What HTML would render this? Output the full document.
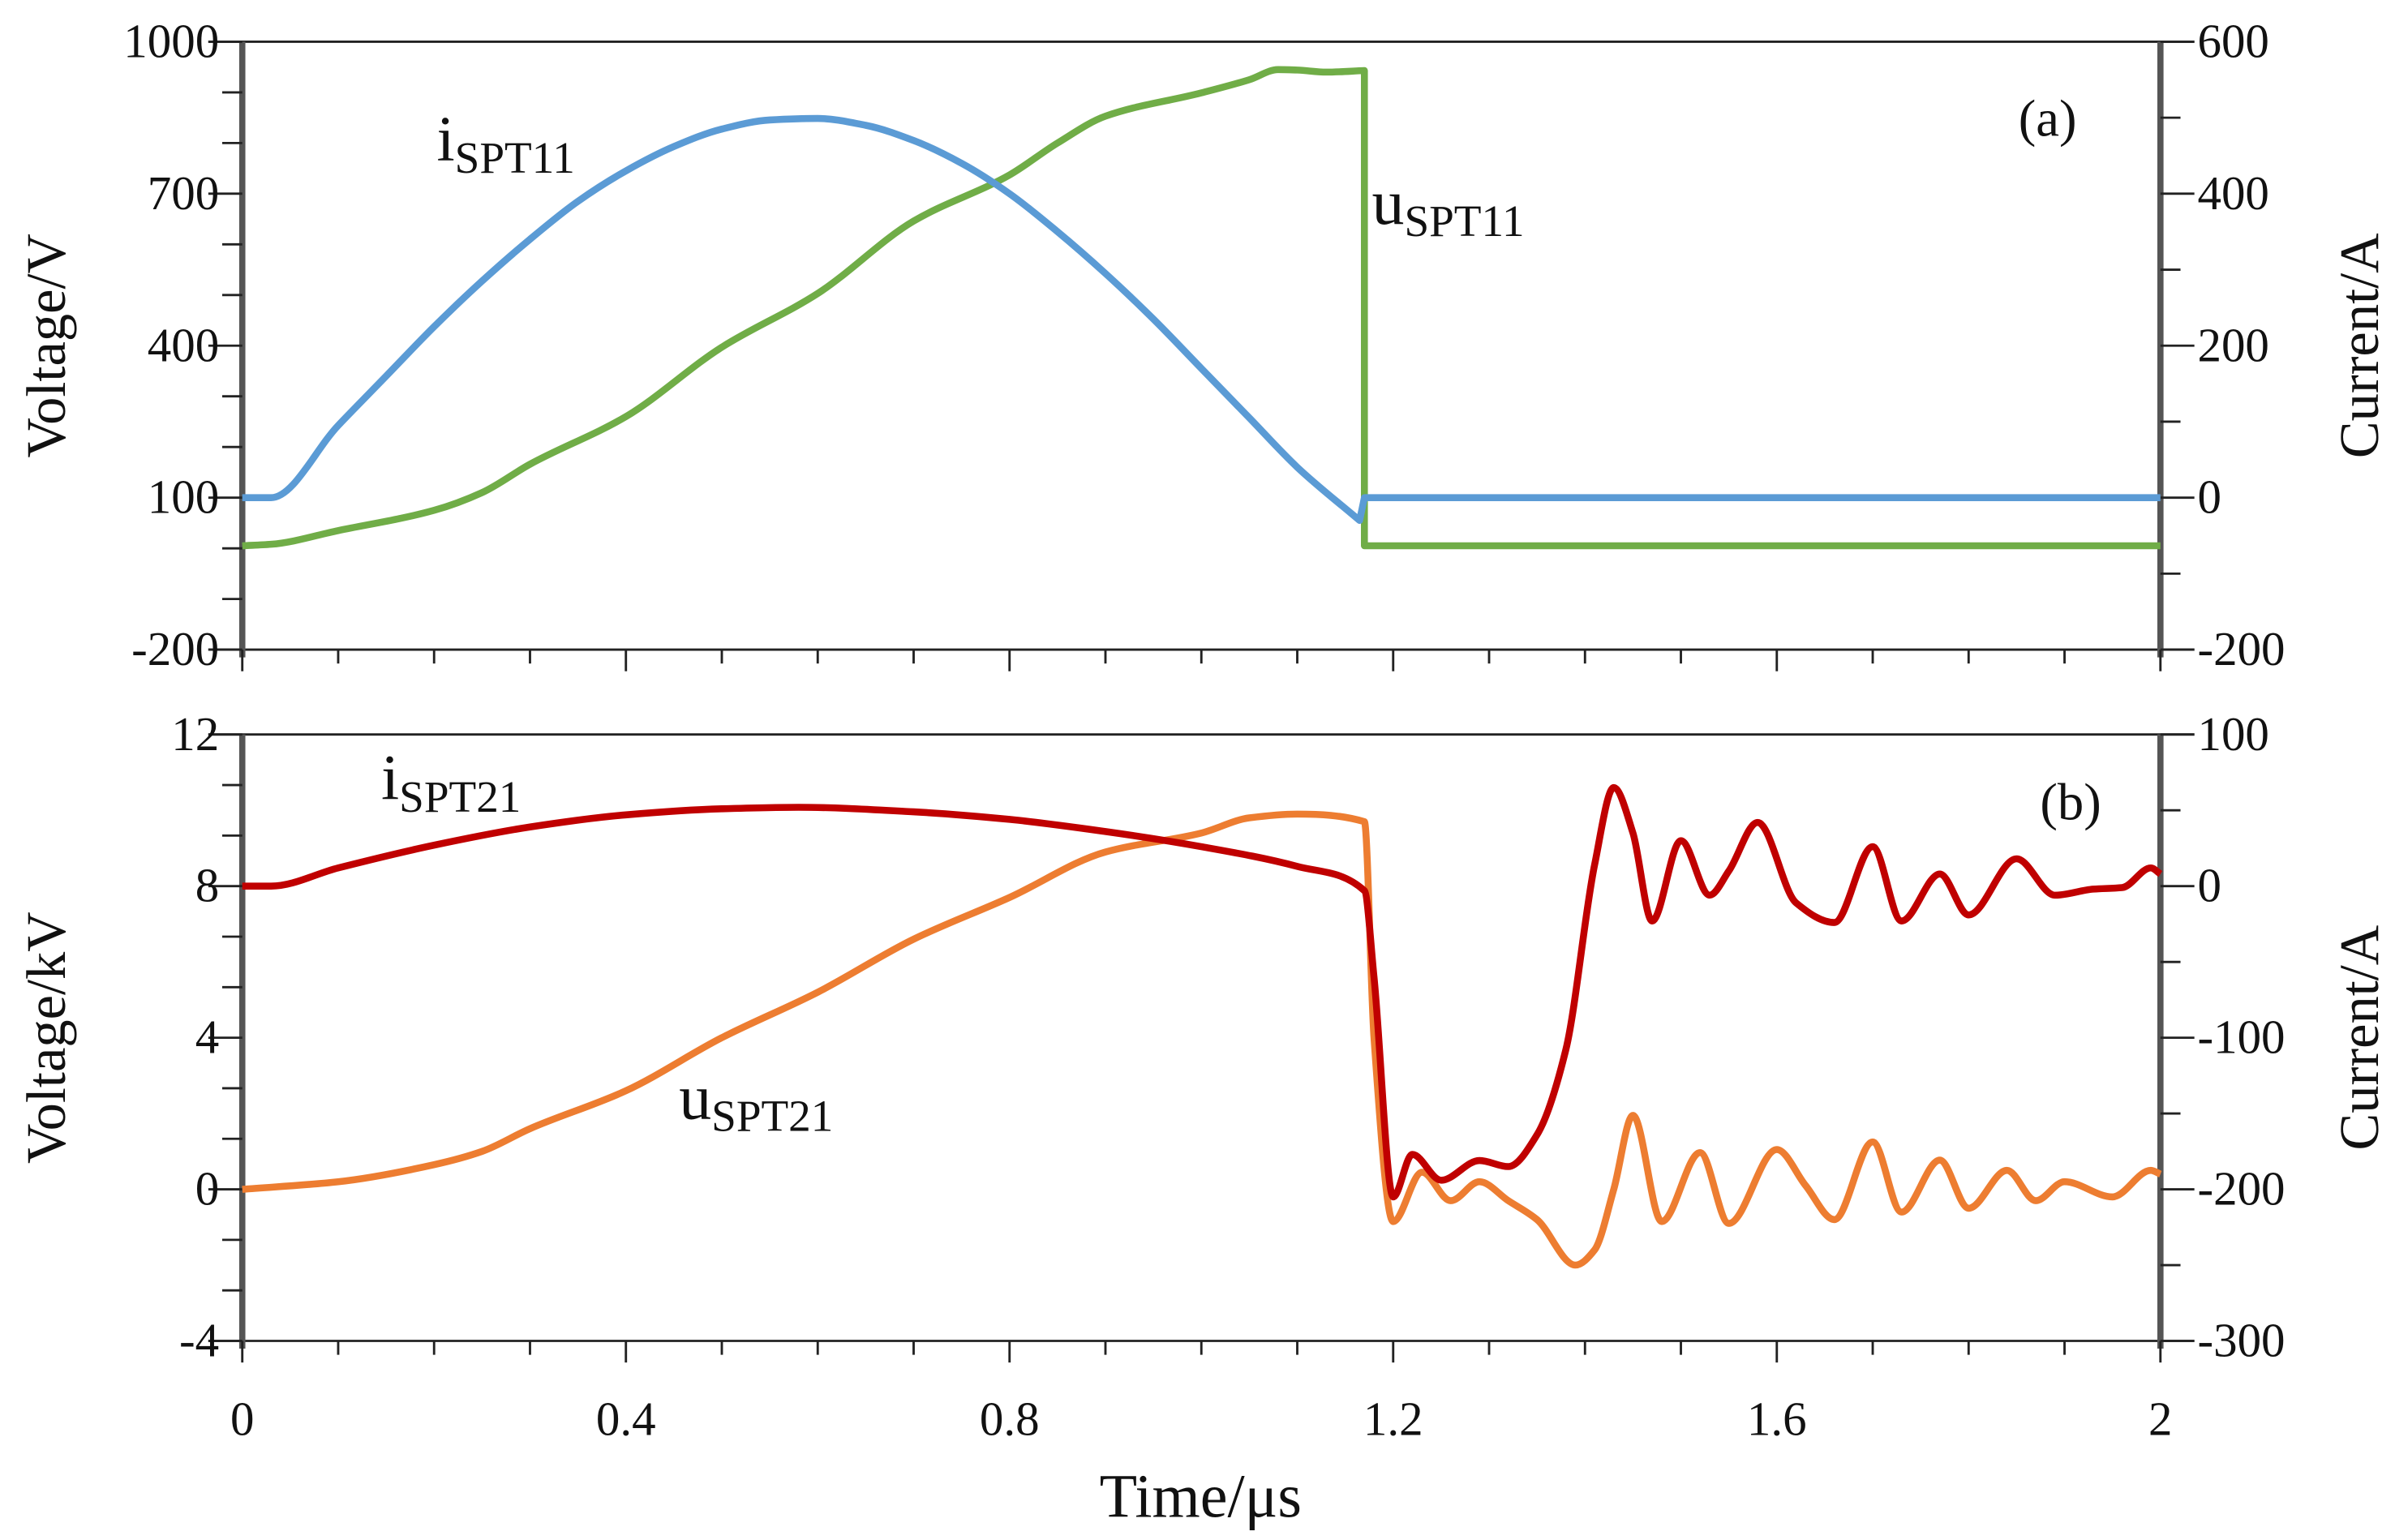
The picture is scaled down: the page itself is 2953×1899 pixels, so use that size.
<!DOCTYPE html>
<html><head><meta charset="utf-8"><style>
html,body{margin:0;padding:0;background:#fff;}
svg{display:block;font-family:"Liberation Serif",serif;}
</style></head><body>
<svg id="chart" width="2953" height="1899" viewBox="0 0 1552 998" xmlns="http://www.w3.org/2000/svg">
<g id="g"></g>
</svg>
<script>
// ---- data ----
const tA_i = [0,0.03,0.1,0.15,0.2,0.25,0.3,0.35,0.4,0.45,0.5,0.55,0.6,0.65,0.7,0.75,0.8,0.85,0.9,0.95,1.0,1.05,1.1,1.165];
const iSPT11 = [0,0,95,160,225,285,340,390,430,462,485,497,499,490,470,440,400,350,295,235,170,105,40,-30];
const tA_u = [0,0.03,0.1,0.2,0.25,0.3,0.4,0.5,0.6,0.7,0.8,0.85,0.9,1.0,1.05,1.08,1.1,1.13,1.17];
const uSPT11 = [5,8,35,75,110,166,260,397,503,646,737,800,853,899,925,945,944,940,943];
const tB_i = [0,0.03,0.1,0.2,0.3,0.4,0.5,0.58,0.7,0.8,0.9,1.0,1.1,1.17,1.18,1.2,1.22,1.25,1.29,1.32,1.35,1.38,1.41,1.43,1.45,1.47,1.5,1.53,1.55,1.58,1.62,1.66,1.7,1.73,1.77,1.8,1.85,1.89,1.93,1.96,1.99,2.0];
const iSPT21 = [0,0,12,27,39,47,51,52,49,44,36,26,13,-3,-60,-205,-177,-194,-181,-185,-164,-108,14,65,35,-23,30,-6,10,42,-11,-24,26,-23,8,-19,18,-6,-2,-1,12,8];
const tB_u = [0,0.1,0.2,0.25,0.3,0.4,0.5,0.6,0.7,0.8,0.9,1.0,1.05,1.1,1.17,1.18,1.2,1.23,1.26,1.29,1.32,1.35,1.39,1.41,1.43,1.45,1.48,1.52,1.55,1.6,1.63,1.66,1.7,1.73,1.77,1.8,1.84,1.87,1.9,1.95,1.99,2.0];
const uSPT21 = [0,0.2,0.65,1.0,1.6,2.6,4.0,5.2,6.6,7.7,8.9,9.4,9.8,9.9,9.7,4,-0.85,0.45,-0.3,0.2,-0.3,-0.8,-2.0,-1.6,0.0,1.95,-0.85,0.97,-0.9,1.05,0.1,-0.8,1.25,-0.6,0.77,-0.5,0.5,-0.3,0.2,-0.2,0.5,0.4];
const xTicks = [0,0.4,0.8,1.2,1.6,2];
const xTickLabels = ["0","0.4","0.8","1.2","1.6","2"];
const aLeftTicks = [1000,700,400,100,-200];
const aRightTicks = [600,400,200,0,-200];
const bLeftTicks = [12,8,4,0,-4];
const bRightTicks = [100,0,-100,-200,-300];

// ---- geometry (display units) ----
const X0=157, X1=1400;
const A={top:27,bot:421}, B={top:476,bot:869};
const x = t => X0 + (t/2)*(X1-X0);
const yAL = v => A.bot - (v+200)/1200*(A.bot-A.top);
const yAR = v => A.bot - (v+200)/800*(A.bot-A.top);
const yBL = v => B.bot - (v+4)/16*(B.bot-B.top);
const yBR = v => B.bot - (v+300)/400*(B.bot-B.top);

const NS="http://www.w3.org/2000/svg";
const g=document.getElementById('g');
function el(tag,attrs,parent){const e=document.createElementNS(NS,tag);for(const k in attrs)e.setAttribute(k,attrs[k]);(parent||g).appendChild(e);return e;}

// monotone cubic (Fritsch-Carlson) - no overshoot
function smoothPath(pts){
  const n=pts.length, dx=[], s=[], m=[];
  for(let i=0;i<n-1;i++){dx[i]=pts[i+1][0]-pts[i][0];s[i]=(pts[i+1][1]-pts[i][1])/dx[i];}
  m[0]=s[0];m[n-1]=s[n-2];
  for(let i=1;i<n-1;i++){
    if(s[i-1]*s[i]<=0)m[i]=0;
    else{const w1=2*dx[i]+dx[i-1],w2=dx[i]+2*dx[i-1];m[i]=(w1+w2)/(w1/s[i-1]+w2/s[i]);}
  }
  let d=`M${pts[0][0]},${pts[0][1]}`;
  for(let i=0;i<n-1;i++){
    const h=dx[i]/3;
    d+=` C${pts[i][0]+h},${pts[i][1]+m[i]*h} ${pts[i+1][0]-h},${pts[i+1][1]-m[i+1]*h} ${pts[i+1][0]},${pts[i+1][1]}`;
  }
  return d;
}

function panel(P,lt,lf,rt,rf,ll,rl,id){
  let e;
  e=el('line',{x1:X0-22,y1:P.top,x2:X1+22,y2:P.top,stroke:'#222','stroke-width':1.5});
  
  
  e=el('line',{x1:X0-22,y1:P.bot,x2:X1+22,y2:P.bot,stroke:'#222','stroke-width':1.5});
  
  
  e=el('line',{x1:X0,y1:P.top,x2:X0,y2:P.bot+5,stroke:'#555','stroke-width':4});
  
  
  e=el('line',{x1:X1,y1:P.top,x2:X1,y2:P.bot+5,stroke:'#555','stroke-width':4});
  
  
  for(let i=0;i<lt.length;i++){
    const y=lf(lt[i]);
    e=el('line',{x1:X0-22,y1:y,x2:X0,y2:y,stroke:'#222','stroke-width':1.5});
    
    
    if(i<lt.length-1){
      for(let k=1;k<3;k++){
        const ym=y+(lf(lt[i+1])-y)*k/3;
        e=el('line',{x1:X0-13,y1:ym,x2:X0,y2:ym,stroke:'#222','stroke-width':1.5});
        
        
      }
    }
    e=el('text',{x:X0-15,y:y+10,'text-anchor':'end','font-size':31,fill:'#111'});
    e.textContent=String(lt[i]);
    
    
  }
  for(let i=0;i<rt.length;i++){
    const y=rf(rt[i]);
    e=el('line',{x1:X1,y1:y,x2:X1+22,y2:y,stroke:'#222','stroke-width':1.5});
    
    
    if(i<rt.length-1){
      const ym=(y+rf(rt[i+1]))/2;
      e=el('line',{x1:X1,y1:ym,x2:X1+13,y2:ym,stroke:'#222','stroke-width':1.5});
      
      
    }
    e=el('text',{x:X1+24,y:y+10,'font-size':31,fill:'#111'});
    e.textContent=String(rt[i]);
    
    
  }
  for(let k=0;k<=20;k++){
    const xx=x(k*0.1), major=(k%4===0);
    e=el('line',{x1:xx,y1:P.bot,x2:xx,y2:P.bot+(major?14:9),stroke:'#222','stroke-width':1.5});
    
    
  }
  const cy=(P.top+P.bot)/2;
  e=el('text',{x:0,y:0,'font-size':36,'text-anchor':'middle',fill:'#111',transform:`translate(42,${cy}) rotate(-90)`});
  e.textContent=ll;
  
  
  e=el('text',{x:0,y:0,'font-size':36,'text-anchor':'middle',fill:'#111',transform:`translate(1541,${cy}) rotate(-90)`});
  e.textContent=rl;
  
  
}
panel(A,aLeftTicks,yAL,aRightTicks,yAR,'Voltage/V','Current/A','panel-a');
panel(B,bLeftTicks,yBL,bRightTicks,yBR,'Voltage/kV','Current/A','panel-b');

for(let i=0;i<xTicks.length;i++){
  const e=el('text',{x:x(xTicks[i]),y:930,'text-anchor':'middle','font-size':31,fill:'#111'});
  e.textContent=xTickLabels[i];
  
  
}
let t=el('text',{x:778,y:983,'text-anchor':'middle','font-size':40,fill:'#111'});
t.textContent='Time/μs';



function series(ts,vs,yf,color,name,tail){
  const pts=ts.map((tt,i)=>[x(tt),yf(vs[i])]);
  let d=smoothPath(pts);
  if(tail) d+=tail(pts);
  const e=el('path',{d:d,fill:'none',stroke:color,'stroke-width':4.5,'stroke-linejoin':'round'});
  
  
}
series(tA_u,uSPT11,yAL,'#70ad47','u-spt11-line',p=>` L${x(1.17)},${yAL(5)} L${x(2)},${yAL(5)}`);
series(tA_i,iSPT11,yAR,'#5b9bd5','i-spt11-line',p=>` L${x(1.17)},${yAR(0)} L${x(2)},${yAR(0)}`);
series(tB_u,uSPT21,yBL,'#ed7d31','u-spt21-line');
series(tB_i,iSPT21,yBR,'#c00000','i-spt21-line');

function label(xx,yy,main,sub,name){
  const e=el('text',{x:xx,y:yy,'font-size':42,fill:'#111'});
  const s1=el('tspan',{},e);s1.textContent=main;
  const s2=el('tspan',{'font-size':29,dy:8},e);s2.textContent=sub;
  
  
}
label(283,104,'i','SPT11','i-spt11-label');
label(889,145,'u','SPT11','u-spt11-label');
label(247,518,'i','SPT21','i-spt21-label');
label(440,725,'u','SPT21','u-spt21-label');
t=el('text',{x:1308,y:88,'font-size':34,fill:'#111'});
t.textContent='(a)';


t=el('text',{x:1322,y:531,'font-size':34,fill:'#111'});
t.textContent='(b)';


</script>
</body></html>
